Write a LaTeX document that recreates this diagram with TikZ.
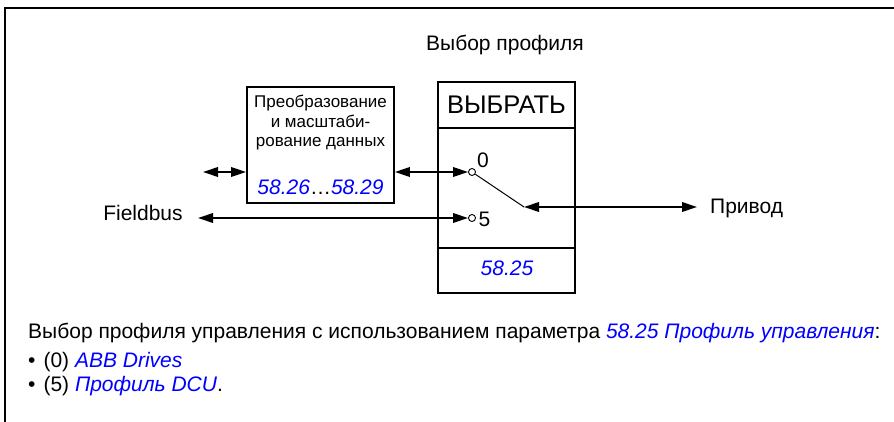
\documentclass[tikz,border=0pt]{standalone}
\usepackage{fontspec}
\setmainfont{Liberation Sans}
\usepackage{xcolor}
\usetikzlibrary{arrows.meta,positioning,calc}
\definecolor{parblue}{RGB}{0,0,255}
\newcommand{\pref}[1]{\textcolor{parblue}{\textit{#1}}}
\tikzset{
  box/.style={rectangle, draw=black, line width=1.8pt, inner sep=0pt},
  lbl/.style={inner sep=0pt, font=\fontsize{21}{24}\selectfont},
  txt/.style={inner sep=0pt, anchor=base west, font=\fontsize{21}{24}\selectfont},
  arr/.style={{Triangle[length=15pt,width=9.5pt]}-{Triangle[length=15pt,width=9.5pt]}, line width=2pt},
}

\begin{document}
\begin{tikzpicture}[
    x=1pt, y=-1pt,
    contact/.style={circle, draw=black, line width=0.9pt, fill=white,
      minimum size=7pt, inner sep=0pt},
  ]
  \useasboundingbox (0,0) rectangle (894,422);
  % frame
  \draw[line width=1.4pt] (894,8) -- (5,8) -- (5,422);
  \node[lbl] (title) at (505,45) {Выбор профиля};
  % conversion block
  \node[box, minimum width=147pt, minimum height=116pt] (conv) at (320.5,145) {};
  \node[inner sep=0pt, anchor=north, align=center,
    font=\fontsize{17}{19.5}\selectfont] (convtxt) at (320.5,95)
    {Преобразование\\и масштаби-\\рование данных};
  \node[lbl, anchor=base] (convpar) at (320.5,195) {\pref{58.26}…\pref{58.29}};
  % selector block
  \node[box, minimum width=137pt, minimum height=211pt] (sel) at (506.5,187.5) {};
  \coordinate (sepA) at (0,128);
  \coordinate (sepB) at (0,248);
  \draw[line width=1.8pt] (sel.west |- sepA) -- (sel.east |- sepA);
  \draw[line width=1.8pt] (sel.west |- sepB) -- (sel.east |- sepB);
  \node[inner sep=0pt, font=\fontsize{25.5}{30}\selectfont] (seltxt) at (506.5,105) {ВЫБРАТЬ};
  \node[lbl] (selpar) at (507,268) {\pref{58.25}};
  % switch contacts
  \node[contact] (c0) at (472,172) {};
  \node[contact] (c5) at (472,218) {};
  \node[lbl] (c0lbl) at (483,160) {0};
  \node[lbl] (c5lbl) at (484.5,219.5) {5};
  \coordinate (pivot) at (524,207);
  \draw[line width=1pt] (c0) -- (pivot);
  % fieldbus side
  \node[lbl] (fb) at (143,213) {Fieldbus};
  \coordinate (fbout) at (198,218);
  \coordinate (fbin) at (203,172);
  \draw[arr] (fbin) -- (conv.west |- fbin);
  \draw[arr] (conv.east |- c0) -- (c0.west);
  \draw[arr] (fbout) -- (c5.west);
  % drive side
  \node[lbl, anchor=west] (drv) at (710,208) {Привод};
  \coordinate (drvin) at (697,207);
  \draw[arr] (pivot) -- (drvin);
  % description
  \node[txt] (desc) at (28,338)
    {Выбор профиля управления с использованием параметра \pref{58.25 Профиль управления}:};
  \node[txt] (opt0) at (28,367) {•\hspace{8pt}(0) \pref{ABB Drives}};
  \node[txt] (opt5) at (28,391) {•\hspace{8pt}(5) \pref{Профиль DCU}.};
\end{tikzpicture}
\end{document}
